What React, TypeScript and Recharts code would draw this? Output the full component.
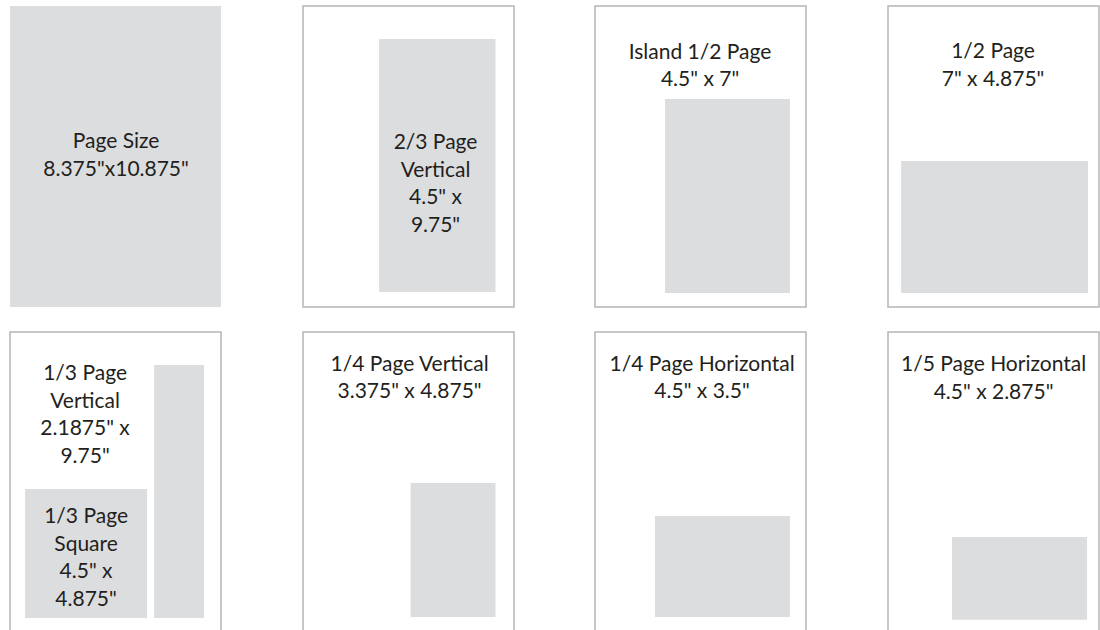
import { ComposedChart, XAxis, YAxis, ReferenceArea, Scatter } from 'recharts';

// page trim size, inches
const PAGE_W = 8.375;
const PAGE_H = 10.875;

// ad boxes per panel, inches from the page's top-left: [x0, x1, y0, y1]
const pageSizeAds = [[0, 8.375, 0, 10.875]];
const twoThirdsVerticalAds = [[3.02, 7.64, 1.19, 10.33]];
const islandHalfAds = [[2.78, 7.74, 3.36, 10.37]];
const halfPageAds = [[0.52, 7.94, 5.6, 10.37]];
const oneThirdAds = [[5.72, 7.7, 1.19, 10.33], [0.6, 5.44, 5.67, 10.33]];
const quarterVerticalAds = [[4.27, 7.64, 5.46, 10.3]];
const quarterHorizontalAds = [[2.38, 7.74, 6.65, 10.3]];
const fifthHorizontalAds = [[2.54, 7.9, 7.41, 10.4]];

// text labels, anchored at their centre (inches)
const pageSizeLabels = [{ x: 4.21, y: 5.33, lines: ['Page Size', '8.375"x10.875"'] }];
const twoThirdsVerticalLabels = [{ x: 5.26, y: 6.36, lines: ['2/3 Page', 'Vertical', '4.5" x', '9.75"'] }];
const islandHalfLabels = [{ x: 4.17, y: 2.1, lines: ['Island 1/2 Page', '4.5" x 7"'] }];
const halfPageLabels = [{ x: 4.17, y: 2.08, lines: ['1/2 Page', '7" x 4.875"'] }];
const oneThirdLabels = [
    { x: 2.98, y: 2.93, lines: ['1/3 Page', 'Vertical', '2.1875" x', '9.75"'] },
    { x: 3.02, y: 8.09, lines: ['1/3 Page', 'Square', '4.5" x', '4.875"'] },
];
const quarterVerticalLabels = [{ x: 4.23, y: 1.59, lines: ['1/4 Page Vertical', '3.375" x 4.875"'] }];
const quarterHorizontalLabels = [{ x: 4.25, y: 1.59, lines: ['1/4 Page Horizontal', '4.5" x 3.5"'] }];
const fifthHorizontalLabels = [{ x: 4.19, y: 1.61, lines: ['1/5 Page Horizontal', '4.5" x 2.875"'] }];

const panels = [
    { ads: pageSizeAds, labels: pageSizeLabels },
    { ads: twoThirdsVerticalAds, labels: twoThirdsVerticalLabels },
    { ads: islandHalfAds, labels: islandHalfLabels },
    { ads: halfPageAds, labels: halfPageLabels },
    { ads: oneThirdAds, labels: oneThirdLabels },
    { ads: quarterVerticalAds, labels: quarterVerticalLabels },
    { ads: quarterHorizontalAds, labels: quarterHorizontalLabels },
    { ads: fifthHorizontalAds, labels: fifthHorizontalLabels },
];

const COL_LEFT = [10, 302.5, 595, 887.5];
const ROW_TOP = [6, 332];
const BOX_W = 211;
const BOX_H = 301;

const AD_FILL = '#dcdddf';
const EDGE = '#b4b5b8';
const INK = '#231f20';
const LINE_H = 27.5;

const LabelShape = (props: any) => {
    const { cx, cy, payload } = props;
    const lines: string[] = payload.lines;
    const start = cy - ((lines.length - 1) * LINE_H) / 2;
    return (
        <text textAnchor="middle" fill={INK} fontFamily="Lato, 'Open Sans', sans-serif" fontSize={21}>
            {lines.map((l, i) => (
                <tspan key={i} x={cx} y={start + i * LINE_H} dominantBaseline="central">{l}</tspan>
            ))}
        </text>
    );
};

function PagePanel({ ads, labels }: { ads: number[][]; labels: any[] }) {
    const fullPage = ads.some(a => a[0] === 0 && a[1] === PAGE_W && a[2] === 0 && a[3] === PAGE_H);
    return (
        <ComposedChart width={BOX_W + 2} height={BOX_H + 2} margin={{ top: 1, right: 1, bottom: 1, left: 1 }}>
            <XAxis type="number" dataKey="x" domain={[0, PAGE_W]} hide />
            <YAxis type="number" dataKey="y" domain={[0, PAGE_H]} reversed hide />
            {!fullPage && (
                <ReferenceArea x1={0} x2={PAGE_W} y1={0} y2={PAGE_H} fill="#ffffff" fillOpacity={1} stroke={EDGE} strokeWidth={1.5} />
            )}
            {ads.map((a, i) => (
                <ReferenceArea key={i} x1={a[0]} x2={a[1]} y1={a[2]} y2={a[3]} fill={AD_FILL} fillOpacity={1} stroke="none" />
            ))}
            <Scatter data={labels} shape={LabelShape} isAnimationActive={false} />
        </ComposedChart>
    );
}

export default function App() {
    return (
        <div style={{ position: 'absolute', left: 0, top: 0, width: 1100, height: 630, overflow: 'hidden', background: '#fff' }}>
            {panels.map((p, i) => (
                <div
                    key={i}
                    style={{ position: 'absolute', left: COL_LEFT[i % 4] - 1, top: ROW_TOP[Math.floor(i / 4)] - 1 }}
                >
                    <PagePanel ads={p.ads} labels={p.labels} />
                </div>
            ))}
        </div>
    );
}
